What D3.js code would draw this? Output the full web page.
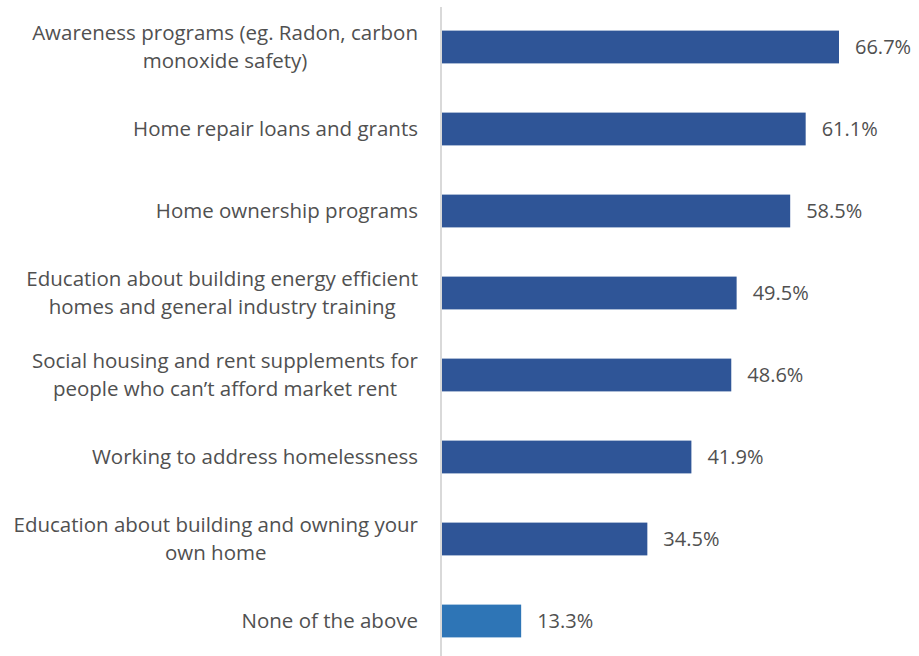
<!DOCTYPE html>
<head lang="en">
<meta charset="utf-8">
<title>Housing programs bar chart</title>
<style>
body { margin: 0; background: #fff; }
* { font-family: "Open Sans", "Noto Sans", sans-serif; }
</style>
<script src="https://cdn.jsdelivr.net/npm/d3@7"></script>
</head>
<body>
<div id="chart"></div>
<script>
// Chart values
var categories = [
    ["Awareness programs (eg. Radon, carbon", "monoxide safety)"],
    ["Home repair loans and grants"],
    ["Home ownership programs"],
    ["Education about building energy efficient", "homes and general industry training"],
    ["Social housing and rent supplements for", "people who can\u2019t afford market rent"],
    ["Working to address homelessness"],
    ["Education about building and owning your", "own home"],
    ["None of the above"]
];
var values = [66.7, 61.1, 58.5, 49.5, 48.6, 41.9, 34.5, 13.3];
var barColors = ["#2F5597", "#2F5597", "#2F5597", "#2F5597", "#2F5597", "#2F5597", "#2F5597", "#2E75B6"];

var width = 919, height = 656;
var axisX = 442;
var labelRight = 418;
var textColor = "#505050";

var svg = d3.select("#chart").append("svg")
    .attr("width", width)
    .attr("height", height);

var x = d3.scaleLinear()
    .domain([0, 66.7])
    .range([axisX, 839]);

var y = d3.scaleBand()
    .domain(d3.range(values.length))
    .range([6, 662])
    .paddingInner(0.6)
    .paddingOuter(0.3);

svg.selectAll("rect.bar")
    .data(values)
    .enter()
    .append("rect")
        .attr("class", "bar")
        .attr("x", x(0))
        .attr("y", function(d, i) { return y(i); })
        .attr("width", function(d) { return x(d) - x(0); })
        .attr("height", y.bandwidth())
        .style("fill", function(d, i) { return barColors[i]; });

// vertical category axis line
svg.append("line")
    .attr("x1", axisX - 1).attr("x2", axisX - 1)
    .attr("y1", 7).attr("y2", height)
    .style("stroke", "#d9d9d9")
    .style("stroke-width", "2px");

// value labels
svg.selectAll("text.val")
    .data(values)
    .enter()
    .append("text")
        .attr("class", "val")
        .attr("x", function(d) { return x(d) + 16; })
        .attr("y", function(d, i) { return y(i) + y.bandwidth() / 2; })
        .attr("dy", "0.35em")
        .style("font-size", "20px")
        .style("fill", textColor)
        .text(function(d) { return d.toFixed(1) + "%"; });

// category labels: block right-aligned, lines centred inside the block
var lineGap = 28;
var labels = svg.selectAll("text.cat")
    .data(categories)
    .enter()
    .append("text")
        .attr("class", "cat")
        .attr("text-anchor", "middle")
        .style("font-size", "20.5px")
        .style("fill", textColor);

labels.each(function(lines, i) {
    var cy = y(i) + y.bandwidth() / 2;
    var el = d3.select(this);
    var spans = lines.map(function(t, k) {
        return el.append("tspan")
            .attr("y", cy + (k - (lines.length - 1) / 2) * lineGap)
            .attr("dy", "0.35em")
            .text(t);
    });
    var maxW = d3.max(spans, function(s) { return s.node().getComputedTextLength(); });
    spans.forEach(function(s) { s.attr("x", labelRight - maxW / 2); });
});
</script>
</body>
</html>
